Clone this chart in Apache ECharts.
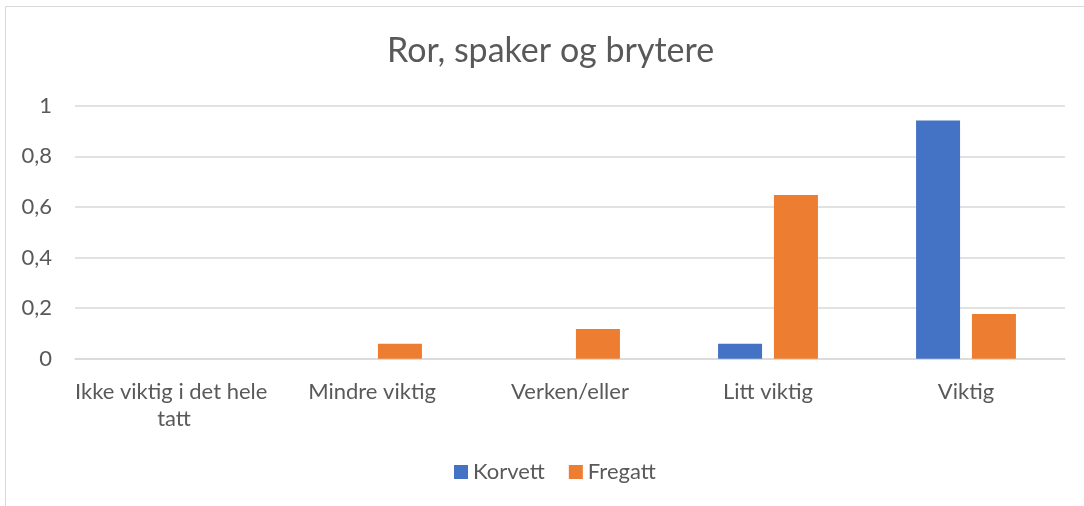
<!DOCTYPE html>
<html>
<head>
<meta charset="utf-8">
<script src="https://cdn.jsdelivr.net/npm/echarts@6/dist/echarts.min.js"></script>
<style>
html,body{margin:0;padding:0;background:#fff;}
#c{width:1084px;height:506px;}
</style>
</head>
<body>
<div id="c"></div>
<script>
const title = 'Ror, spaker og brytere';
const categories = ['Ikke viktig i det hele tatt', 'Mindre viktig', 'Verken/eller', 'Litt viktig', 'Viktig'];
const seriesNames = ['Korvett', 'Fregatt'];
const korvett = [0, 0, 0, 0.0588, 0.9412];
const fregatt = [0, 0.0588, 0.1176, 0.6471, 0.1765];
const yTicks = [0, 0.2, 0.4, 0.6, 0.8, 1];

const font = 'Lato, "Open Sans", sans-serif';
const chart = echarts.init(document.getElementById('c'), null, {renderer: 'canvas'});
chart.setOption({
  animation: false,
  backgroundColor: '#ffffff',
  graphic: [{
    type: 'rect', silent: true,
    shape: {x: 5.5, y: 6.5, width: 1200, height: 600},
    style: {fill: 'none', stroke: '#d9d9d9', lineWidth: 1}
  }],
  title: {
    text: title, left: 382, top: 29,
    textStyle: {fontFamily: font, fontSize: 34, fontWeight: 'normal', color: '#595959'}
  },
  legend: {
    data: seriesNames, top: 456, left: 449,
    itemWidth: 14, itemHeight: 14, itemGap: 24, icon: 'rect',
    textStyle: {fontFamily: font, fontSize: 22, color: '#595959'}
  },
  grid: {left: 75, right: 19, top: 105.7, bottom: 147.3, containLabel: false},
  xAxis: {
    type: 'category', data: categories,
    axisLine: {lineStyle: {color: '#d9d9d9', width: 1.5}},
    axisTick: {show: false},
    axisLabel: {
      fontFamily: font, fontSize: 22, color: '#595959', margin: 20,
      interval: 0, width: 212, overflow: 'break', lineHeight: 27
    }
  },
  yAxis: {
    type: 'value', min: yTicks[0], max: yTicks[yTicks.length - 1], interval: 0.2,
    axisLine: {show: false}, axisTick: {show: false},
    splitLine: {lineStyle: {color: '#d9d9d9', width: 1.5}},
    axisLabel: {
      fontFamily: font, fontSize: 22, color: '#595959', margin: 23,
      formatter: v => String(Math.round(v * 10) / 10).replace('.', ',')
    }
  },
  series: [
    {name: seriesNames[0], type: 'bar', data: korvett, barWidth: 44, barGap: '27%',
     itemStyle: {color: '#4472c4'}},
    {name: seriesNames[1], type: 'bar', data: fregatt, barWidth: 44, barGap: '27%',
     itemStyle: {color: '#ed7d31'}}
  ]
});
</script>
</body>
</html>
